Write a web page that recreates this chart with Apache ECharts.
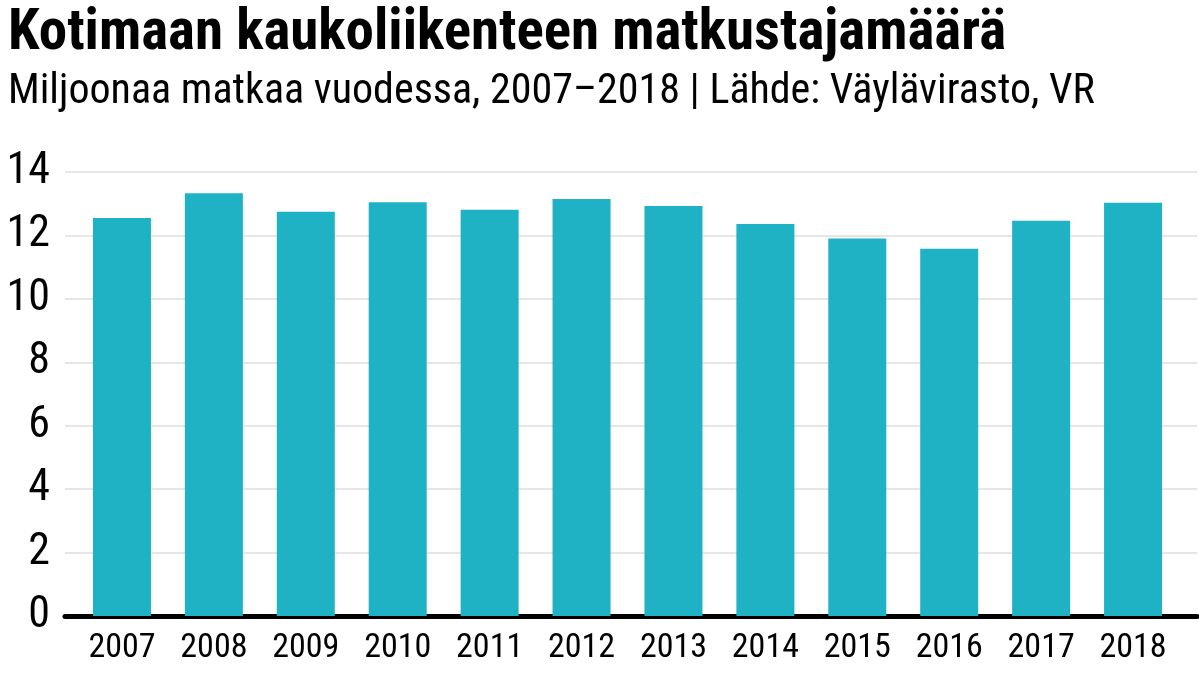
<!DOCTYPE html>
<html>
<head>
  <meta charset="utf-8">
  <title>Kotimaan kaukoliikenteen matkustajamäärä</title>
  <style>
    html, body { margin: 0; padding: 0; background: #fff; }
    #main { width: 1199px; height: 675px; }
  </style>
</head>
<body>
<div id="main"></div>
<script src="https://cdn.jsdelivr.net/npm/echarts@6.0.0/dist/echarts.min.js"></script>
<script>
  // data
  var years = ['2007', '2008', '2009', '2010', '2011', '2012', '2013', '2014', '2015', '2016', '2017', '2018'];
  var passengers = [12.55, 13.33, 12.75, 13.05, 12.81, 13.15, 12.93, 12.36, 11.9, 11.58, 12.46, 13.03];
  var yTicks = [0, 2, 4, 6, 8, 10, 12, 14];

  var font = "'Roboto Condensed', 'Liberation Sans Narrow', 'DejaVu Sans Condensed', sans-serif";
  var myChart = echarts.init(document.getElementById('main'));

  myChart.setOption({
    animation: false,
    title: [
      {
        text: 'Kotimaan kaukoliikenteen matkustajamäärä',
        left: 3,
        top: 1,
        textStyle: { fontFamily: font, fontSize: 57, fontWeight: 'bold', color: '#000' }
      },
      {
        text: 'Miljoonaa matkaa vuodessa, 2007–2018 | Lähde: Väylävirasto, VR',
        left: 3,
        top: 66,
        textStyle: { fontFamily: font, fontSize: 42, fontWeight: 'normal', color: '#000' }
      }
    ],
    // grid 0 draws the gridlines and axes, grid 1 holds the bars
    grid: [
      { left: 65, right: 2, top: 172, bottom: 59 },
      { left: 76, right: 20, top: 172, bottom: 59 }
    ],
    xAxis: [
      {
        gridIndex: 0,
        type: 'category',
        data: [''],
        axisLine: { lineStyle: { color: '#000', width: 5 } },
        axisTick: { show: false },
        axisLabel: { show: false }
      },
      {
        gridIndex: 1,
        type: 'category',
        data: years,
        axisLine: { show: false },
        axisTick: { show: false },
        axisLabel: { fontFamily: font, fontSize: 34, color: '#000', margin: 15 }
      }
    ],
    yAxis: [
      {
        gridIndex: 0,
        type: 'value',
        min: yTicks[0],
        max: yTicks[yTicks.length - 1],
        interval: 2,
        axisLine: { show: false },
        axisTick: { show: false },
        axisLabel: { fontFamily: font, fontSize: 44, color: '#000', margin: 15 },
        splitLine: { lineStyle: { color: '#e6e6e6', width: 2 } }
      },
      {
        gridIndex: 1,
        type: 'value',
        min: yTicks[0],
        max: yTicks[yTicks.length - 1],
        interval: 2,
        show: false
      }
    ],
    series: [
      {
        type: 'bar',
        xAxisIndex: 1,
        yAxisIndex: 1,
        data: passengers,
        barWidth: 58,
        itemStyle: { color: '#1fb2c5' },
        z: 1
      }
    ]
  });
</script>
</body>
</html>
